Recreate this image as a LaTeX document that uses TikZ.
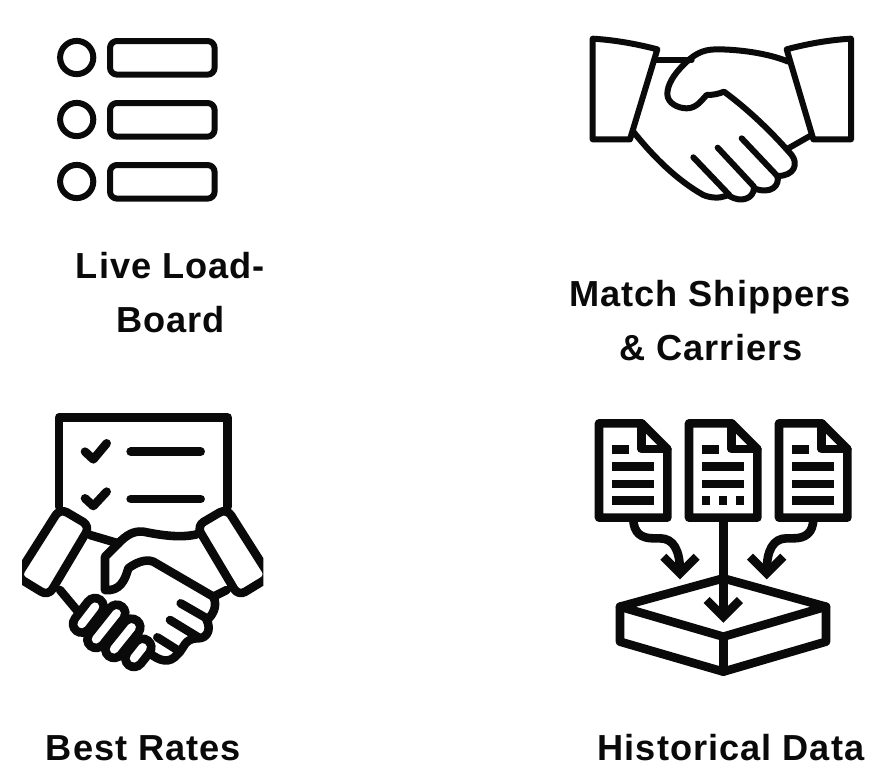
\documentclass[tikz,border=0pt]{standalone}
\usepackage{fontspec}
\setmainfont{Liberation Sans}[LetterSpace=2.8]
\usetikzlibrary{calc}
\tikzset{
 lbl/.style={anchor=base,inner sep=0pt,font=\fontsize{36.2}{36.2}\selectfont\bfseries,text=ink},
 thin icon/.style={draw=ink,line width=6pt,line join=round,line cap=round},
 thick icon/.style={draw=ink,line width=8.6pt,line join=round,line cap=round},
 bar/.style={fill=ink,draw=none},
}
\definecolor{ink}{HTML}{0A0A0A}
\begin{document}
\begin{tikzpicture}[x=1pt,y=-1pt]
\useasboundingbox (0,0) rectangle (876,774);
\fill[white] (0,0) rectangle (876,774);
% list icon
\foreach \yy in {0,62,124}{
 \draw[thin icon] (76.7,57.5+\yy) circle (16.6);
 \draw[thin icon,rounded corners=7pt] (110,41+\yy) rectangle (214.6,74.6+\yy);
}
% handshake
\begin{scope}[shift={(570,20)},scale=0.33333]
 \draw[thin icon] (68,56) .. controls (135,60) and (200,72) .. (262,88) -- (180,358) -- (68,358) -- cycle;
 \draw[thin icon] (843,56) .. controls (775,60) and (710,72) .. (650,88) -- (730,358) -- (843,358) -- cycle;
 \draw[thin icon] (258,120) -- (365,120);
 \draw[thin icon] (655,385) -- (725,345);
 \draw[thin icon] (655,125) .. controls (590,98) and (500,88) .. (440,88)
   .. controls (395,88) and (370,105) .. (340,135)
   .. controls (310,165) and (292,195) .. (292,222)
   .. controls (292,250) and (325,265) .. (350,265)
   .. controls (380,265) and (395,240) .. (410,225)
   .. controls (430,225) and (445,222) .. (462,215)
   .. controls (530,265) and (600,330) .. (665,405)
   .. controls (685,430) and (675,468) .. (622,468)
   .. controls (630,495) and (605,525) .. (552,505)
   .. controls (550,535) and (515,550) .. (478,528);
 \draw[thin icon] (190,335) .. controls (250,410) and (320,480) .. (400,525)
   .. controls (425,535) and (450,535) .. (470,527);
 \draw[thin icon] (515,355) -- (622,468);
 \draw[thin icon] (443,383) -- (552,500);
 \draw[thin icon] (370,412) -- (478,525);
\end{scope}
% deal icon
\begin{scope}[shift={(10,400)},scale=0.33333]
 \draw[thick icon] (147,320) -- (147,52) -- (653,52) -- (653,320);
 \draw[thick icon] (225,155) -- (250,178) -- (290,130);
 \draw[thick icon] (225,295) -- (250,318) -- (290,275);
 \draw[thick icon] (362,155) -- (572,155);
 \draw[thick icon] (362,297) -- (572,297);
 \begin{scope}
  \clip (36,0) rectangle (760,840);
  \draw[thick icon,rounded corners=8pt] (150,325) -- (240,378) -- (115,588) -- (20,530) -- cycle;
  \draw[thick icon,rounded corners=8pt] (650,325) -- (560,378) -- (685,588) -- (780,530) -- cycle;
 \end{scope}
 \draw[thick icon] (240,405) -- (325,430);
 \draw[thick icon] (325,430) .. controls (350,405) and (370,392) .. (400,395)
   .. controls (450,405) and (510,415) .. (560,403);
 \draw[thick icon] (325,430) -- (285,470) -- (285,570)
   .. controls (330,575) and (345,540) .. (355,505)
   .. controls (375,490) and (405,475) .. (430,485) -- (610,590)
   .. controls (625,620) and (605,650) .. (590,660)
   .. controls (605,690) and (590,715) .. (565,715)
   .. controls (520,715) and (525,745) .. (500,765)
   .. controls (480,790) and (450,785) .. (420,760);
 \draw[thick icon] (610,590) -- (650,570);
 \draw[thick icon] (150,570) -- (200,630);
 \draw[thick icon] (512,610) -- (590,655);
 \draw[thick icon] (480,660) -- (565,712);
 \draw[thick icon] (442,712) -- (510,755);
 % fist
 \foreach \ax/\ay/\bx/\by in {215/672/255/620, 258/718/320/640, 312/748/365/682, 372/775/398/742}{
  \draw[ink,line width=26pt,line cap=round] (\ax,\ay) -- (\bx,\by);
 }
 \foreach \ax/\ay/\bx/\by in {215/672/255/620, 258/718/320/640, 312/748/365/682, 372/775/398/742}{
  \draw[white,line width=8.5pt,line cap=round] (\ax,\ay) -- (\bx,\by);
 }
\end{scope}
% data icon
\begin{scope}[shift={(580,405)},scale=0.33333]
 \foreach \dd in {0,270,540}{
  \draw[thick icon] (57+\dd,55) -- (185+\dd,55) -- (262+\dd,132) -- (262+\dd,338) -- (57+\dd,338) -- cycle;
  \draw[thick icon] (185+\dd,55) -- (185+\dd,132) -- (262+\dd,132);
  \fill[bar] (95+\dd,120) rectangle (147+\dd,146);
  \fill[bar] (95+\dd,172) rectangle (223+\dd,198);
  \fill[bar] (95+\dd,224) rectangle (223+\dd,250);
 }
 \foreach \dd in {0,540}{\fill[bar] (95+\dd,274) rectangle (223+\dd,300);}
 \fill[bar] (365,274) rectangle (390,300);
 \fill[bar] (417,274) rectangle (442,300);
 \fill[bar] (468,274) rectangle (493,300);
 \draw[thick icon,line cap=butt] (160,340) .. controls (160,385) and (185,400) .. (220,400)
   -- (240,400) .. controls (280,400) and (300,435) .. (300,500);
 \draw[thick icon,line cap=butt,line join=miter] (250,455) -- (300,505) -- (350,455);
 \draw[thick icon,line cap=butt] (700,340) .. controls (700,385) and (675,400) .. (640,400)
   -- (620,400) .. controls (580,400) and (560,435) .. (560,500);
 \draw[thick icon,line cap=butt,line join=miter] (510,455) -- (560,505) -- (610,455);
 \draw[thick icon] (120,605) -- (430,520) -- (738,605) -- (430,695) -- cycle;
 \draw[thick icon] (120,605) -- (120,710) -- (430,800) -- (738,710) -- (738,605);
 \draw[thick icon] (430,695) -- (430,800);
 \draw[thick icon,line cap=butt] (430,340) -- (430,630);
 \draw[thick icon,line cap=butt,line join=miter] (380,585) -- (430,635) -- (480,585);
\end{scope}
% labels
\node[lbl] (t1) at (170.5,278) {Live Load-};
\node[lbl] (t2) at (170.5,332) {Board};
\node[lbl] (t3) at (710,306) {Match Shippers};
\node[lbl] (t4) at (711,360) {\& Carriers};
\node[lbl] (t5) at (143.5,760) {Best Rates};
\node[lbl] (t6) at (731,760) {Historical Data};
\end{tikzpicture}
\end{document}
